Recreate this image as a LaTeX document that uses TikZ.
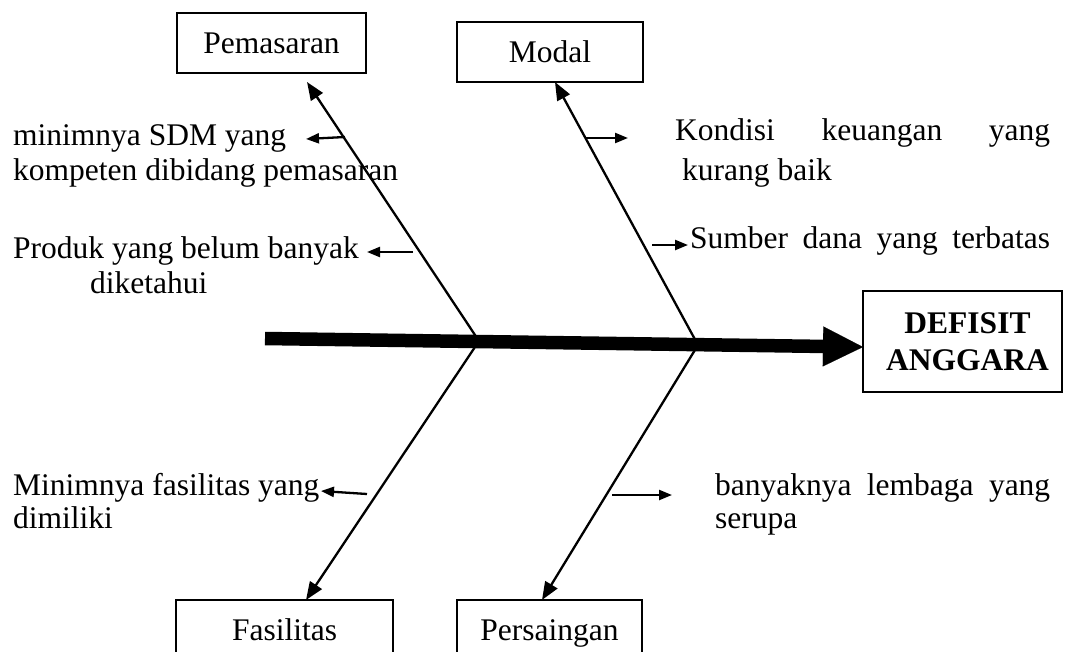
\documentclass[tikz,border=0pt]{standalone}
\usepackage{fontspec}
\setmainfont{Liberation Serif}
\usetikzlibrary{arrows.meta,calc}
\newcommand\myfs{\fontsize{31.5}{35}\selectfont}
\begin{document}
\begin{tikzpicture}[x=1pt,y=-1pt,
  box/.style={draw,line width=1.5pt,inner sep=0pt,text height=20pt,text depth=0pt,font=\myfs},
  lbl/.style={inner sep=0pt,anchor=base west,font=\myfs},
  bone/.style={line width=2.3pt,-{Triangle[length=18pt,width=14pt]}},
  sub/.style={line width=2.3pt,-{Triangle[length=13pt,width=10pt]}},
  spine/.style={line width=13.5pt,-{Triangle[length=40pt,width=40pt,line width=0.1pt]}}
]
\clip (0,0) rectangle (1071,651);
\fill[white] (0,0) rectangle (1071,651);

% boxes
\node[box,minimum width=189pt,minimum height=60pt] (pem) at (271.5,43) {Pemasaran};
\node[box,minimum width=186pt,minimum height=60pt] (mod) at (550,52) {Modal};
\node[box,minimum width=217pt,minimum height=60pt] (fas) at (284.5,630) {Fasilitas};
\node[box,minimum width=185pt,minimum height=60pt] (per) at (549.5,630) {Persaingan};
\node[draw,line width=1.5pt,minimum width=199pt,minimum height=101pt,inner sep=0pt,
      align=center,font=\myfs\bfseries] (def) at (962.5,341.5) {\hspace*{10pt}DEFISIT\\[2pt]\hspace*{10pt}ANGGARA};

% coordinates
\coordinate (s0) at (265,338.5);
\coordinate (head) at (863,347);
\coordinate (j1) at (479,341);
\coordinate (j2) at (698,345);
\coordinate (tpem) at (307,82);
\coordinate (tmod) at (555,82);
\coordinate (tfas) at (306,600);
\coordinate (tper) at (542,600);

% bones
\draw[bone] (j1) -- (tpem);
\draw[bone] (j2) -- (tmod);
\draw[bone] (j1) -- (tfas);
\draw[bone] (j2) -- (tper);

% spine
\draw[spine] (s0) -- (head);

% texts
\node[lbl] (t1) at (13,145) {minimnya SDM yang};
\node[lbl] (t1b) at (13,180) {kompeten dibidang pemasaran};
\node[lbl] (t2) at (13,258) {Produk yang belum banyak};
\node[lbl] (t2b) at (90,293) {diketahui};
\node[lbl] (t3) at (675,140) {\hbox to 375pt{Kondisi\hfill keuangan\hfill yang}};
\node[lbl] (t3b) at (682,180) {kurang baik};
\node[lbl] (t4) at (690,248) {\hbox to 360pt{Sumber\hfill dana\hfill yang\hfill terbatas}};
\node[lbl] (t5) at (13,495) {Minimnya fasilitas yang};
\node[lbl] (t5b) at (13,528) {dimiliki};
\node[lbl] (t6) at (715,495) {\hbox to 335pt{banyaknya\hfill lembaga\hfill yang}};
\node[lbl] (t6b) at (715,528) {serupa};

% sub-cause arrows
\coordinate (a1s) at (345,137); \coordinate (a1e) at (306,139);
\coordinate (a2s) at (413,252); \coordinate (a2e) at (367,252);
\coordinate (a3s) at (585,138); \coordinate (a3e) at (628,138);
\coordinate (a4s) at (652,245); \coordinate (a4e) at (688,245);
\coordinate (a5s) at (367,494); \coordinate (a5e) at (321,491);
\coordinate (a6s) at (612,495); \coordinate (a6e) at (672,495);
\draw[sub] (a1s) -- (a1e);
\draw[sub] (a2s) -- (a2e);
\draw[sub] (a3s) -- (a3e);
\draw[sub] (a4s) -- (a4e);
\draw[sub] (a5s) -- (a5e);
\draw[sub] (a6s) -- (a6e);
\end{tikzpicture}
\end{document}
